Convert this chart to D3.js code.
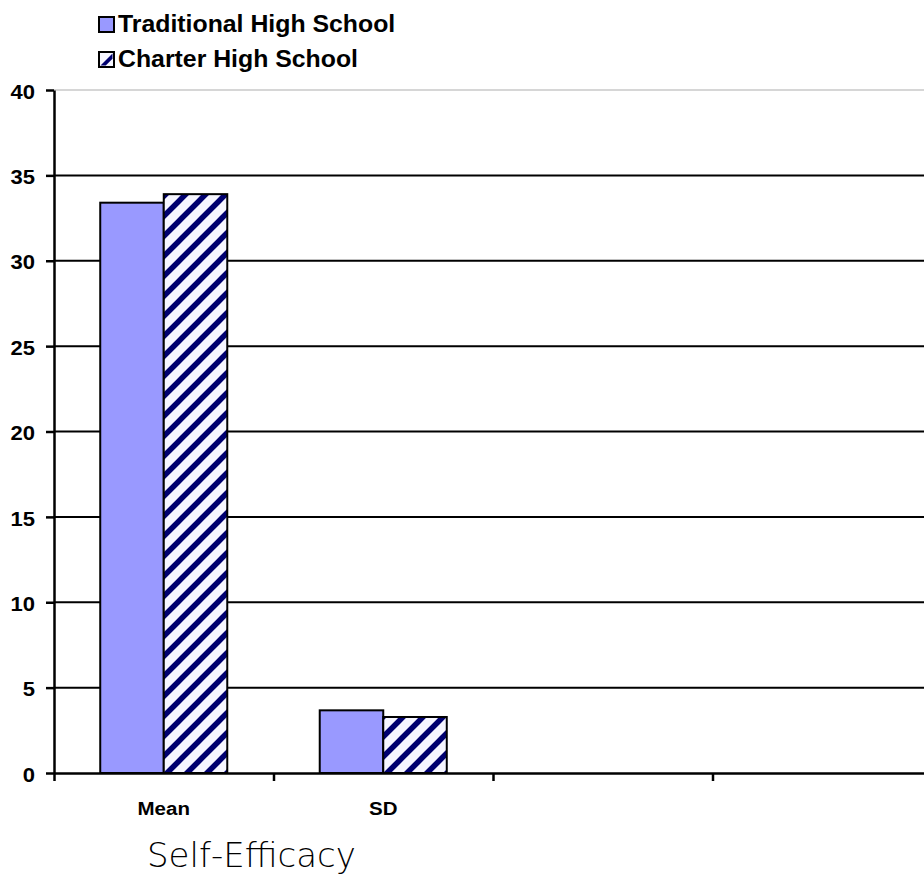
<!DOCTYPE html>
<html>
<head>
<meta charset="utf-8">
<script src="https://cdn.jsdelivr.net/npm/d3@7"></script>
<style>
html,body{margin:0;padding:0;background:#fff;}
svg{display:block;}
</style>
</head>
<body>
<svg id="chart" width="924" height="880"></svg>
<script>
// ---- data ----
const categories = ["Mean", "SD", "", ""];
const seriesNames = ["Traditional High School", "Charter High School"];
const traditionalValues = [33.4, 3.67];
const charterValues = [33.9, 3.28];
const yTicks = [0, 5, 10, 15, 20, 25, 30, 35, 40];
const chartTitle = "Self-Efficacy";

const svg = d3.select("#chart");
const W = 924, H = 880;
const plotLeft = 54, plotTop = 90, plotBottom = 773, step = 219.5;

const defs = svg.append("defs");
const pat = defs.append("pattern").attr("id", "hatch")
  .attr("patternUnits", "userSpaceOnUse").attr("width", 20).attr("height", 20);
pat.append("rect").attr("width", 20).attr("height", 20).attr("fill", "#f6f6ff");
pat.append("path").attr("d", "M-5,5 L5,-5 M0,20 L20,0 M15,25 L25,15")
  .attr("stroke", "#000070").attr("stroke-width", 5.5);
const pat2 = defs.append("pattern").attr("id", "hatchLegend")
  .attr("patternUnits", "objectBoundingBox").attr("width", 1).attr("height", 1)
  .attr("patternContentUnits", "objectBoundingBox");
pat2.append("rect").attr("width", 1).attr("height", 1).attr("fill", "#f6f6ff");
pat2.append("path").attr("d", "M0.1,0.9 L0.9,0.1 L0.9,0.45 L0.45,0.9 Z").attr("fill", "#000070");

const x = d3.scaleBand().domain(d3.range(categories.length))
  .range([plotLeft, plotLeft + step * categories.length]).padding(0);
const xi = d3.scaleBand().domain(d3.range(seriesNames.length))
  .range([0, x.bandwidth()]).paddingInner(0).paddingOuter(0.728);
const y = d3.scaleLinear().domain([0, 40]).range([plotBottom, plotTop]);

// gridlines
svg.append("g").selectAll("line").data(yTicks.filter(t => t > 0)).join("line")
  .attr("x1", plotLeft).attr("x2", W)
  .attr("y1", d => y(d)).attr("y2", d => y(d))
  .attr("stroke", d => d === 40 ? "#c8c8c8" : "#000")
  .attr("stroke-width", d => d === 40 ? 1.5 : 2);

// bars
const rows = categories.map((c, i) => ({i, vals: [traditionalValues[i], charterValues[i]]}))
  .filter(r => r.vals[0] !== undefined);
const g = svg.append("g");
rows.forEach(r => {
  r.vals.forEach((v, s) => {
    g.append("rect")
      .attr("x", x(r.i) + xi(s))
      .attr("y", y(v))
      .attr("width", xi.bandwidth())
      .attr("height", y(0) - y(v))
      .attr("fill", s === 0 ? "#9999ff" : "url(#hatch)")
      .attr("stroke", "#000").attr("stroke-width", 2);
  });
});

// y axis
const yAxis = d3.axisLeft(y).tickValues(yTicks).tickSize(8).tickSizeOuter(0).tickFormat(d3.format("d"));
const ya = svg.append("g").attr("transform", `translate(${plotLeft},0)`).call(yAxis);
ya.select(".domain").attr("stroke", "#000").attr("stroke-width", 2.5);
ya.selectAll(".tick line").attr("stroke", "#000").attr("stroke-width", 2.5);
ya.selectAll(".tick text").attr("x", 0).attr("dy", null)
  .attr("dominant-baseline", "central")
  .attr("transform", `translate(-19,1) scale(1.1,1)`)
  .style("font-family", "Liberation Sans, Arial, sans-serif")
  .style("font-weight", "bold").style("font-size", "20px").attr("fill", "#000");

// x axis
const xAxisScale = d3.scaleLinear().domain([0, categories.length]).range([plotLeft, plotLeft + step * categories.length]);
const xa = svg.append("g").attr("transform", `translate(0,${plotBottom})`)
  .call(d3.axisBottom(xAxisScale).tickValues(d3.range(categories.length + 1)).tickSize(8).tickSizeOuter(0).tickFormat(""));
xa.select(".domain").attr("stroke", "#000").attr("stroke-width", 2.5);
xa.selectAll(".tick line").attr("stroke", "#000").attr("stroke-width", 2.5);

// category labels
svg.append("g").selectAll("text").data(categories.map((c, i) => ({c, i}))).join("text")
  .attr("transform", d => `translate(${x(d.i) + xi(0) + xi.bandwidth()},815) scale(1.08,1)`)
  .attr("text-anchor", "middle")
  .style("font-family", "Liberation Sans, Arial, sans-serif")
  .style("font-weight", "bold").style("font-size", "19px")
  .text(d => d.c);

// title
svg.append("text").attr("x", 147).attr("y", 867)
  .style("font-family", "DejaVu Sans, sans-serif").style("font-size", "34px")
  .style("font-weight", "300")
  .text(chartTitle);

// legend
const lg = svg.append("g");
seriesNames.forEach((name, s) => {
  const by = 32 + s * 35;
  lg.append("rect").attr("x", 99).attr("y", by - 15).attr("width", 15).attr("height", 15)
    .attr("fill", s === 0 ? "#9999ff" : "url(#hatchLegend)")
    .attr("stroke", "#000").attr("stroke-width", 2);
  lg.append("text")
    .attr("transform", `translate(118,${by}) scale(1.08,1)`)
    .style("font-family", "Liberation Sans, Arial, sans-serif")
    .style("font-weight", "bold").style("font-size", "23px")
    .text(name);
});
</script>
</body>
</html>
